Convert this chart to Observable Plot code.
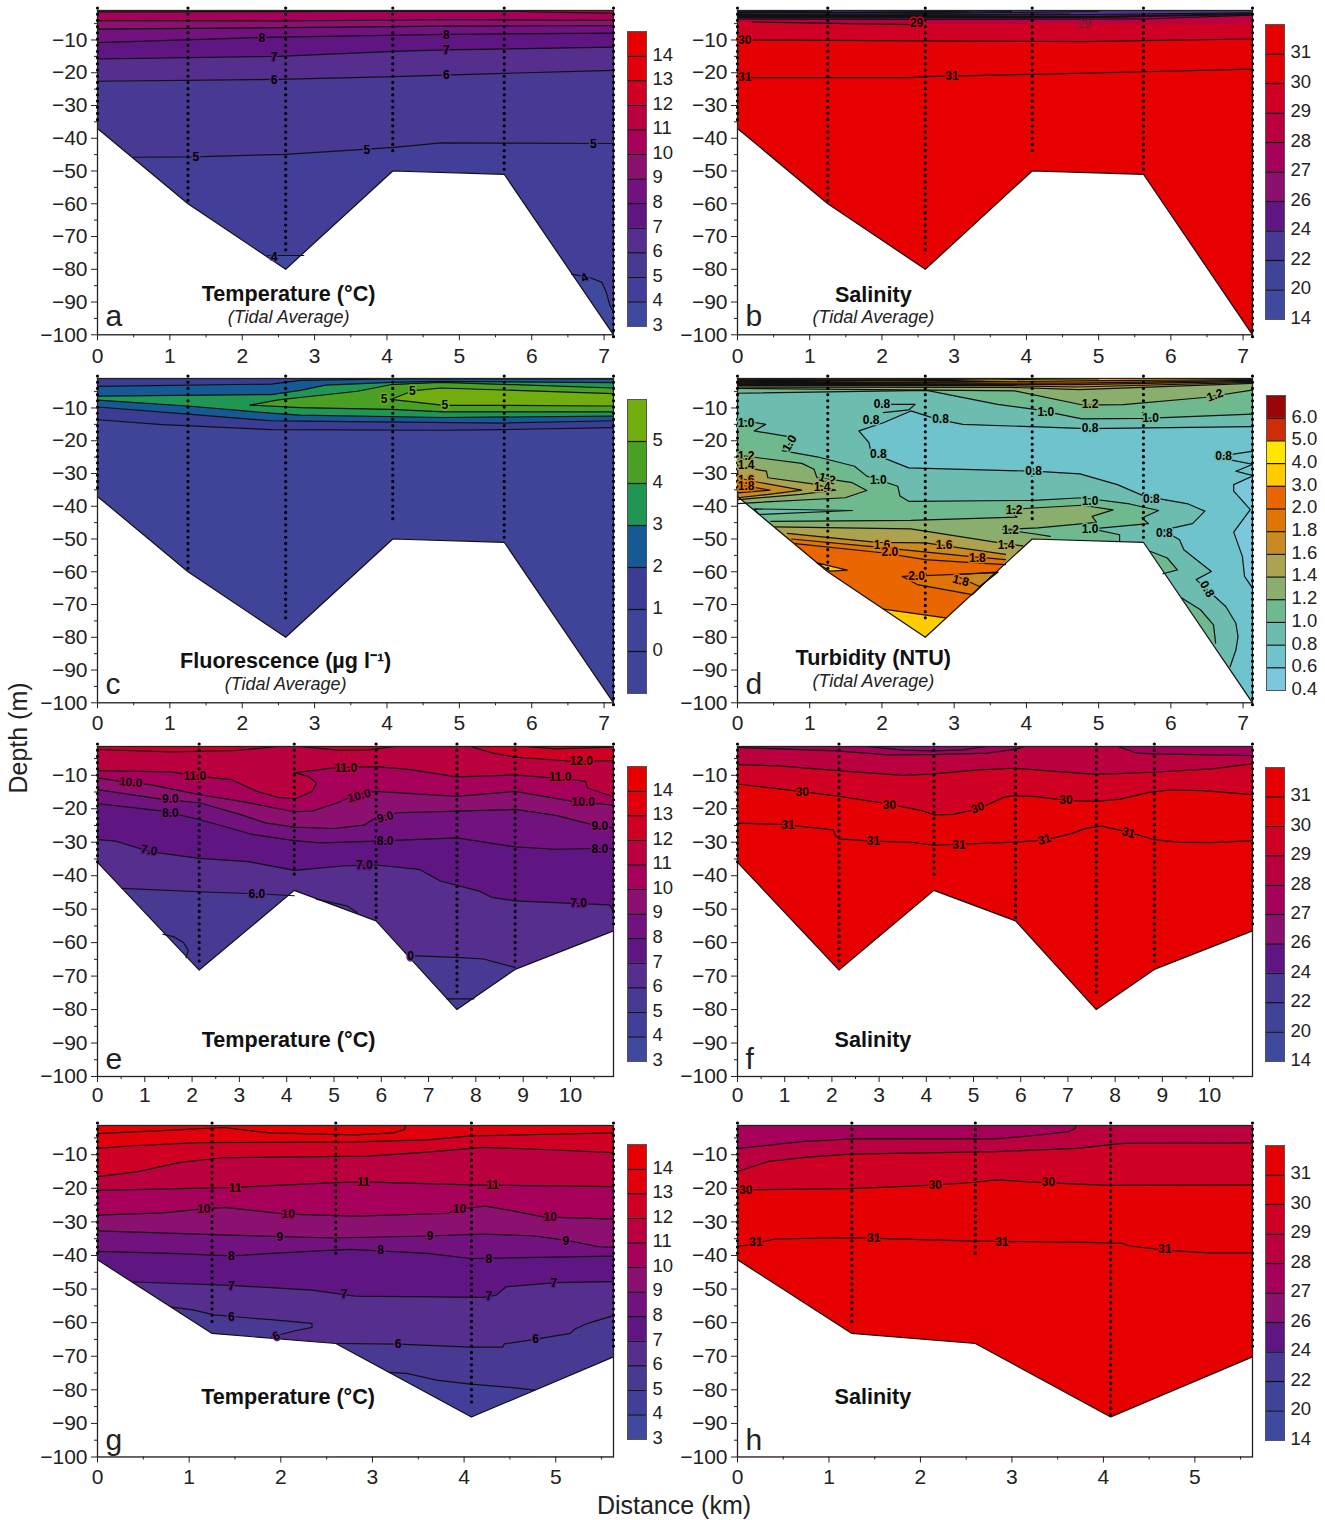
<!DOCTYPE html>
<html><head><meta charset="utf-8">
<script src="https://cdn.jsdelivr.net/npm/d3@7"></script>
<script src="https://cdn.jsdelivr.net/npm/@observablehq/plot@0.6"></script>
<style>
html,body{margin:0;padding:0;background:#fff}
#page{position:relative;width:1325px;height:1520px;overflow:hidden;font-family:"Liberation Sans",Arial,sans-serif;color:#222}
#page svg{position:absolute;overflow:visible;max-width:none}
.ax{position:absolute;font-size:25px;white-space:nowrap}
</style></head><body><div id="page"></div>
<script>
// ---------- colour key levels (bottom to top) ----------
const tempLevels=[3,4,5,6,7,8,9,10,11,12,13,14];
const tempColors=["#3f4a9e","#413f98","#483a92","#552e8e","#601682","#72127f","#8c1070","#a6005a","#bb0040","#d00024","#e2000c","#e60000"];
const salLevels=[14,20,22,24,26,27,28,29,30,31];
const salColors=["#3f4a9e","#3f4499","#483a92","#601682","#8c1070","#a6005a","#bb0040","#d00024","#e50004","#e60000"];
const fluoLevels=[-1,0,1,2,3,4,5];
const fluoColors=["#3f4499","#3f4499","#3b3d95","#155a95","#209655","#4aa024","#72ad10"];
const turbLevels=[0.4,0.6,0.8,1,1.2,1.4,1.6,1.8,2,3,4,5,6];
const turbColors=["#7cc7dc","#6fc3cc","#6cbdb0","#6fb98f","#8aae6e","#aca350","#c98a22","#e07505","#ea6600","#ffcc00","#ffe600","#cf2c08","#9b0508"];

// ---------- sea bed and profile stations ----------
const bedABCD=[[0,-37],[1.25,-60],[2.6,-80],[4.08,-50],[5.62,-51],[7.13,-100]];
const stationsABCD=[[0,-36],[1.25,-60],[2.6,-75],[4.08,-45.5],[5.62,-51],[7.13,-101.5]];
const bedEF=[[0,-36],[2.15,-68.2],[4.16,-44.4],[5.89,-53.5],[7.6,-80],[8.83,-68],[10.91,-56.5]];
const stationsEF=[[0,-36],[2.15,-66],[4.16,-40.5],[5.89,-53],[7.6,-75],[8.83,-67],[10.91,-56]];
const bedGH=[[0,-41.3],[1.25,-63.2],[2.6,-66.2],[4.08,-88.1],[5.63,-70.2]];
const stationsG=[[0,-41],[1.25,-60.5],[2.6,-40.4],[4.08,-85],[5.63,-68]];
const stationsH=[[0,-41],[1.25,-60.8],[2.6,-40.4],[4.08,-88],[5.63,-68]];

// ---------- panel a: temperature ----------
const a4a=[[2.35,-75.8],[2.85,-75.8]];
const a4b=[[6.55,-81.5],[6.8,-82.5],[6.97,-84],[7.03,-87],[7.08,-91],[7.13,-93]];
const a5=[[0.5,-45.8],[1.3,-45.7],[2.6,-44.9],[4.1,-42.8],[4.75,-41.4],[5.6,-41.5],[7.13,-41.6]];
const a6=[[0,-22.6],[2.5,-22],[4.1,-21.2],[5.6,-20.2],[7.13,-19.3]];
const a7=[[0,-15.8],[2.5,-15],[4.1,-13.5],[4.8,-13],[7.13,-12.2]];
const a8=[[0,-10.8],[2.3,-9.2],[4.8,-8.3],[7.13,-7.9]];
const a9=[[0,-6.7],[2.6,-6.2],[4.8,-5.8],[7.13,-5.6]];
const a10=[[0,-4.1],[2.6,-4.2],[4.8,-3.8],[7.13,-4]];
const a11=[[0,-1.4],[5.6,-1.2],[7.13,-1.9]];
const aLabels=[[2.27,-9.3,"8"],[4.82,-8.4,"8"],[2.44,-15.2,"7"],[4.82,-13,"7"],[2.44,-22.3,"6"],[4.82,-20.7,"6"],[1.36,-45.7,"5"],[3.72,-43.6,"5"],[6.85,-41.7,"5"],[2.44,-76.2,"4"],[6.73,-82.6,"4",-30]];
const aLayers=[[3,"down",a4a],[3,"down",a4b],[5,"up",a5],[6,"up",a6],[7,"up",a7],[8,"up",a8],[9,"up",a9],[10,"up",a10],[11,"up",a11]];

// ---------- panel b: salinity ----------
const b31=[[0,-21.5],[2.4,-21.5],[2.6,-21.2],[4.08,-20.5],[5.62,-19.7],[7.13,-18.9]];
const b30=[[0,-10],[1.25,-10.1],[4.8,-10.5],[5.6,-10.2],[7.13,-9.7]];
const b29fill=[[0,-4.2],[0.21,-4.5],[2.4,-5.3],[2.6,-5],[5.6,-5.1],[7.13,-5]];
const b29=[[0.21,-4.5],[2.4,-5.3]];
const b28=[[0,-3.6],[2.6,-3.7],[5.64,-3.6],[7.13,-2.4]];
const b27=[[0,-3.2],[2.6,-3.2],[5,-3.1],[7.13,-2.2]];
const b26=[[0,-2.9],[2.6,-2.9],[5,-2.8],[7.13,-2]];
const b24=[[0,-2.6],[2.6,-2.5],[4.5,-2.3],[7.13,-1.7]];
const b22=[[0,-2.2],[2.2,-2],[3.9,-1.6],[5,-1.3]];
const b20=[[0,-1.8],[1.8,-1.6],[3.2,-1.2]];
const b14=[[0,-1.4],[1.3,-1.2]];
const bDark1=[[0,-3],[3.6,-3],[5.4,-2.9]];
const bDark2=[[0,-2.4],[3.2,-2.3],[4.6,-2.1]];
const bDark3=[[0,-1.6],[3.2,-1.5],[3.8,-1.3]];
const bLabels=[[0.1,-10.2,"30"],[0.1,-21.5,"31"],[2.97,-21.1,"31"],[2.48,-5,"29"]];
const bFaint=[[4.8,-5.3,"29"]];
const bLayers=[[30,"up",b31],[29,"up",b30],[28,"up",b29fill,null,true],[27,"up",b28],[26,"up",b27],[24,"up",b26],[22,"up",b24],[20,"cap",b22],[14,"cap",b20],[14,"cap",b14]];
const bExtra=[b29,bDark1,bDark2,bDark3];

// ---------- panel c: fluorescence ----------
const c1=[[0,-13.6],[0.9,-15.1],[2.4,-16.6],[4.75,-16.8],[5.6,-16.6],[7.13,-16]];
const c2up=[[0,-3.4],[2.4,-2.7],[2.8,-1.6],[4.05,-1.15],[7.13,-1.1]];
const c2lo=[[0,-9.7],[1.25,-11.9],[2.4,-13.9],[2.8,-14],[5.61,-14.6],[7.13,-13.9]];
const c3up=[[0,-6.4],[2.4,-5.9],[2.8,-4.6],[3.15,-3],[4.05,-2.2],[4.74,-1.9],[7.13,-2.25]];
const c3lo=[[0,-7.6],[1.25,-9.4],[2.4,-11.6],[2.8,-12.2],[4.79,-12.9],[7.13,-12.5]];
const c4up=[[2.11,-9.1],[2.5,-7.5],[2.8,-6.8],[3.59,-4.9],[4.05,-2.9],[4.74,-2.2],[5.75,-2.9],[7.13,-3.9]];
const c4lo=[[2.11,-9.1],[2.8,-9.9],[4.05,-10.4],[4.79,-11.2],[7.13,-11.2]];
const c5up=[[4.05,-7.4],[4.35,-4.8],[4.74,-3.9],[7.13,-5.6]];
const c5lo=[[4.05,-7.4],[4.79,-9.2],[5.57,-9.2],[7.13,-9.4]];
const cLabels=[[3.96,-7.2,"5"],[4.35,-4.8,"5"],[4.8,-9.2,"5"]];
const cLayers=[[1,"up",c1],[2,"pair",c2up,c2lo],[3,"pair",c3up,c3lo],[4,"pair",c4up,c4lo],[5,"pair",c5up,c5lo]];

// ---------- panel d: turbidity ----------
const d08=[[7.13,-15.7],[4.85,-16.3],[3.12,-15],[2.77,-13.5],[2.4,-10.9],[2.02,-14.5],[1.68,-17],[1.82,-20.6],[1.85,-23.7],[2.37,-28.3],[4.1,-29.3],[4.74,-30.1],[5.26,-33.4],[5.63,-36.9],[6.24,-39.3],[6.47,-41.5],[6.3,-45.3],[5.89,-47.3],[6.12,-50.2],[6.18,-53.3],[6.56,-59.9],[6.35,-62.4],[6.76,-70.6],[6.9,-75.7],[6.93,-79.8],[6.9,-83.9],[6.82,-89]];
const d08notch=[[7.13,-23.2],[6.61,-24.9],[7.13,-27.2],[6.9,-29.3],[7.13,-30.6]];
const d08spike=[[1.91,-8.9],[2.46,-8.9],[2.37,-10.6],[2.02,-11.4]];
const d04=[[7.13,-30.8],[6.87,-33.4],[6.87,-35.4],[7.1,-41],[6.87,-47.9],[6.99,-55.3],[7.02,-61.4],[7.13,-65]];
const d10top=[[0,-5.5],[2.62,-4.6],[3.6,-8.9],[4.12,-10.4],[4.77,-13.3],[5.63,-13.2],[7.13,-11.9]];
const d12top=[[0,-4],[3.84,-4.8],[4.78,-9.1],[5.34,-9],[6.46,-6.8],[7.13,-4.5]];
const d14top=[[0,-3.6],[3.8,-3.7],[4.73,-4.4],[7.13,-2.5]];
const d16top=[[0,-3.2],[3.8,-3.2],[4.7,-3.6],[7.13,-2.2]];
const d18top=[[0,-2.9],[3.5,-2.8],[4.7,-2.9],[7.13,-1.9]];
const d20top=[[0,-2.6],[3,-2.4],[4.7,-2.4],[7.13,-1.6]];
const d30top=[[0,-2.3],[3,-2],[4.7,-1.7],[5.5,-1.6],[7.13,-1.3]];
const d40top=[[0,-2],[3,-1.6],[4.2,-1.2],[5,-1.1]];
const d50top=[[0,-1.7],[3,-1.3],[3.6,-1]];
const d60top=[[0,-1.4],[2,-1.05]];
const dDark1=[[0,-3.05],[2.8,-2.9],[3.6,-2.7]];
const dDark2=[[0,-2.45],[2.6,-2.2],[3.4,-1.9]];
const dDark3=[[0,-1.85],[2.4,-1.5],[3,-1.2]];
const d10main=[[0,-13.5],[0.39,-15],[0.23,-17],[0.81,-19.1],[0.62,-23],[1.1,-24.9],[1.62,-27.8],[1.79,-30.8],[2.22,-33.9],[2.25,-36.9],[2.37,-38.5],[4.1,-38.2],[4.77,-37.4],[5.43,-39.3],[5.83,-41.3],[5.6,-43.6],[5.69,-45.3],[4.91,-46.9],[5.29,-48.7],[5.29,-50.7]];
const d10mainFill=[[5.29,-60],[0,-60]];
const d10a=[[5.72,-53.8],[5.95,-55.8],[6.09,-59.4],[5.89,-60.6]];
const d10b=[[6.15,-68],[6.41,-71.6],[6.59,-76.2],[6.62,-81.8]];
const d10bFill=[[6.1,-82]];
const d12tongue=[[0,-24.5],[0.11,-24.7],[0.89,-26.9],[1.06,-28.7],[1.1,-31.3],[1.36,-32],[1.59,-32.8],[1.79,-35.2],[1.49,-37.4],[0.06,-39.1],[0,-39.2]];
const d14tongue=[[0,-27.7],[0.4,-29.3],[0.42,-31.3],[1.09,-33.3],[1.36,-35.1],[0.87,-36.4],[0.05,-37.9],[0,-38]];
const d16tongue=[[0,-31.3],[0.2,-32.3],[0.89,-35.1],[0.43,-36.4],[0,-37.4]];
const d18tongue=[[0,-33.3],[0.45,-35.1],[0,-35.9]];
const d08wedge=[[0.23,-40.8],[1.59,-41.3],[0.3,-42.5]];
const d12low=[[0.46,-44.6],[2.4,-44.3],[3.87,-43.3],[3.73,-41],[4.77,-39.7],[5.2,-41.1],[4.91,-43.1],[4.97,-44.9],[4.16,-46.6],[3.67,-47.1],[4.1,-48.4],[4.33,-49.2]];
const d12lowFill=[[4.33,-62],[0.46,-62]];
const d14low=[[0.52,-46.3],[2.4,-46.9],[3.7,-51.4],[3.95,-52.1]];
const d16low=[[0.69,-48.3],[1.93,-51],[2.6,-51.2],[3.71,-54.7]];
const d18low=[[0.75,-50],[1.9,-52.4],[2.62,-54],[3.2,-55.3],[3.71,-56.3]];
const d20low=[[0.8,-51.4],[2,-54.2],[2.6,-56.3],[3.29,-57.3],[3.71,-57.8]];
const d18pocket=[[2.28,-61.4],[2.6,-61.2],[3.57,-60.3],[3.25,-67],[2.49,-63.9]];
const d16pocket=[[3,-60.9],[3.61,-60.1],[3.35,-64.5]];
const d30bottom=[[2.02,-71.4],[2.88,-74.1]];
const d30wedge=[[1.1,-57.3],[1.52,-59.5],[1.28,-59.8]];
const dLabels=[[0.12,-14.7,"1.0"],[0.72,-20.8,"1.0",-60],[0.12,-24.7,"1.2"],[0.12,-27.6,"1.4"],[0.12,-32,"1.6"],[0.12,-34,"1.8"],[1.24,-31.6,"1.2",15],[1.17,-34.1,"1.4"],[1.95,-32,"1.0"],[1.95,-24.2,"0.8"],[2,-8.9,"0.8"],[1.85,-13.7,"0.8"],[2.81,-13.5,"0.8"],[4.27,-11.4,"1.0"],[4.88,-8.9,"1.2"],[6.61,-6.1,"1.2",-20],[4.88,-16.3,"0.8"],[5.72,-13,"1.0"],[4.1,-29.3,"0.8"],[4.88,-38.3,"1.0"],[5.73,-37.8,"0.8"],[3.83,-41.2,"1.2"],[3.78,-47.3,"1.2"],[4.88,-46.9,"1.0"],[5.91,-48.2,"0.8"],[3.72,-52,"1.4"],[2.86,-51.9,"1.6"],[2,-51.9,"1.6"],[2.11,-54.1,"2.0"],[3.32,-55.8,"1.8"],[2.48,-61.4,"2.0"],[3.09,-62.7,"1.8",15],[6.5,-65.3,"0.8",60],[6.73,-24.7,"0.8"]];
const dLayers=[[0.6,"open",d08,[[7.13,-100]]],[0.4,"open",d04],[1,"up",d10top],[1.2,"up",d12top],[1.4,"up",d14top],[1.6,"up",d16top],[1.8,"up",d18top],[2,"up",d20top],[3,"up",d30top],[4,"cap",d40top],[5,"cap",d50top],[6,"cap",d60top],
 [1,"open",d10main,d10mainFill],[1,"open",d10a,[[5.7,-62]]],[1,"open",d10b,d10bFill],[1.2,"closed",d12tongue],[1.4,"closed",d14tongue],[1.6,"closed",d16tongue],[1.8,"closed",d18tongue],[0.8,"closed",d08wedge],
 [1.2,"open",d12low,d12lowFill],[1.4,"down",d14low],[1.6,"down",d16low],[1.8,"down",d18low],[2,"down",d20low],[1.8,"closed",d18pocket],[1.6,"closed",d16pocket],[3,"down",d30bottom],[3,"closed",d30wedge]];
const dExtra=[d08notch,d08spike,dDark1,dDark2,dDark3];

// ---------- panel e: temperature ----------
const e12l=[[0,-1.4],[0,-2.3],[1.56,-3],[2.92,-2.6],[3.82,-1.4]];
const e12m=[[4.27,-1.4],[5.08,-2.5],[5.72,-2.4],[6.3,-1.4]];
const e12r=[[7.89,-1.4],[8.34,-3.3],[8.83,-4.6],[10.05,-5.8],[10.91,-5.6]];
const e13=[[9.06,-1.4],[9.69,-2.1],[10.86,-1.6]];
const e11=[[0,-8.6],[1.56,-9],[2.15,-10.3],[2.83,-11.3],[3.37,-14.8],[3.82,-16.6],[4.18,-17],[4.54,-14.8],[4.63,-12.3],[4.45,-10.3],[4.16,-9.3],[4.99,-7.8],[5.89,-7.4],[6.62,-8.3],[7.6,-10.5],[8.83,-9.9],[10.05,-11.3],[10.32,-11.8],[10.36,-13.8],[10.91,-16.4]];
const e10=[[0,-10.8],[0.48,-11.8],[1.11,-12.8],[2.15,-15.8],[3.01,-17.7],[4.16,-20.9],[4.54,-20.7],[5.08,-18.2],[5.45,-15.8],[5.89,-14.8],[7.6,-16.3],[8.83,-14.8],[10.05,-17.8],[10.91,-18.9]];
const e9=[[0,-14.3],[1.38,-17.2],[2.15,-18.2],[3.01,-21.7],[3.55,-24.2],[4.16,-25.5],[4.99,-25.9],[5.63,-24.9],[5.89,-22.7],[6.35,-21.2],[7.6,-20.7],[8.83,-20.2],[9.69,-22],[10.59,-25.2],[10.91,-25.7]];
const e8=[[0,-18.5],[0.66,-19.5],[1.38,-20.7],[2.15,-23.2],[3.28,-27.7],[4.16,-29.5],[4.72,-30.2],[5.89,-29.7],[7.6,-28.7],[8.83,-31.4],[9.69,-32.1],[10.91,-31.8]];
const e7=[[0,-29.2],[0.39,-29.7],[1.11,-32.8],[2.15,-34.8],[3.19,-35.8],[4.16,-38.4],[5.18,-37.1],[5.89,-36.8],[6.8,-38.1],[7.25,-41.6],[8.07,-44.6],[8.34,-46.5],[8.83,-47.5],[10.05,-48.3],[10.82,-48.7],[10.91,-50.5]];
const e6a=[[0.52,-43.8],[2.15,-44.8],[3.37,-45.4],[4.16,-46]];
const e6b=[[4.63,-47],[5.27,-49],[5.49,-51]];
const e6c=[[6.58,-63.9],[7.6,-64.4],[8.16,-64.9],[8.83,-67.4]];
const e5a=[[1.38,-57.5],[1.62,-58.3],[1.82,-60],[1.92,-62.4],[1.87,-64.5]];
const e5b=[[7.39,-76.8],[7.96,-76.8]];
const eLabels=[[2.06,-10.3,"11.0"],[5.25,-7.8,"11.0"],[9.78,-10.6,"11.0"],[0.7,-12.1,"10.0",5],[5.53,-16.1,"10.0",-15],[10.27,-18,"10.0"],[1.54,-17.2,"9.0"],[6.08,-22.5,"9.0",-15],[10.62,-25.3,"9.0"],[1.54,-21.4,"8.0"],[6.08,-29.7,"8.0"],[10.62,-32,"8.0"],[1.09,-32.4,"7.0",10],[5.64,-36.9,"7.0"],[10.17,-48.3,"7.0"],[3.37,-45.4,"6.0"],[6.62,-63.9,"0",0,6],[10.23,-5.8,"12.0"]];
const eLayers=[[5,"down",e6a],[5,"down",e6b],[5,"down",e6c],[4,"down",e5a],[4,"down",e5b],[7,"up",e7],[8,"up",e8],[9,"up",e9],[10,"up",e10],[11,"up",e11],[12,"cap",e12l],[12,"cap",e12m],[12,"open",e12r,[[10.91,-1.4]]],[13,"cap",e13]];

// ---------- panel f: salinity ----------
const f31=[[0,-24.3],[0.97,-24.7],[2.03,-26.3],[2.07,-28],[2.16,-29],[2.82,-29.7],[3.66,-30],[4.16,-30.9],[5.86,-30],[6.52,-29.3],[7.05,-27.5],[7.4,-25.8],[7.71,-25.2],[8.28,-27],[8.81,-29.2],[9.34,-30],[10.04,-30.1],[10.91,-29.5]];
const f30=[[0,-12.6],[1.32,-14.8],[2.16,-16.3],[3.17,-18.5],[3.88,-20.5],[4.16,-21.8],[4.58,-21.7],[5.11,-20],[5.64,-16.6],[5.86,-16.1],[6.34,-16.4],[6.96,-17.5],[7.6,-17.8],[8.11,-17.1],[8.72,-15.1],[9.16,-14.4],[9.87,-14.6],[10.91,-15.8]];
const f29=[[0,-6.8],[0.88,-7.2],[2.11,-8.6],[3.52,-10],[4.16,-9.6],[5.11,-8.4],[5.86,-7.9],[6.52,-8.6],[7.6,-9.7],[8.81,-9.1],[10.04,-8.1],[10.91,-6.6]];
const f28l=[[0,-1.7],[2.11,-2.7],[3.17,-3.9],[4.16,-3.8],[5.29,-3.4],[5.9,-2.2],[6.08,-1.4]];
const f28r=[[8.06,-1.4],[8.46,-3.4],[8.81,-3.6],[10.91,-4.1]];
const f27=[[2.73,-1.4],[3.52,-2.5],[4.16,-2.7],[4.76,-2.4],[5.29,-1.4]];
const fLabels=[[1.37,-14.9,"30"],[3.22,-18.8,"30"],[5.09,-19.7,"30",-20],[6.96,-17.3,"30"],[1.07,-25,"31"],[2.88,-29.7,"31"],[4.69,-30.8,"31"],[6.5,-29.2,"31",-15],[8.28,-27.2,"31",15]];
const fLayers=[[30,"up",f31],[29,"up",f30],[28,"up",f29],[27,"cap",f28l],[27,"open",f28r,[[10.91,-1.4]]],[26,"cap",f27]];

// ---------- panel g: temperature ----------
const g14=[[0,-3.7],[0.81,-2.7],[1.37,-1.9],[1.88,-3.5],[2.81,-4.1],[3.23,-3.5],[3.35,-2.5],[3.36,-1.3]];
const g13=[[0,-8.1],[0.34,-7.4],[1.09,-6.4],[2.81,-6.2],[3.6,-5.6],[4.07,-4.4],[5.63,-3.5]];
const g12=[[0,-16.5],[0.43,-15.1],[0.9,-12.3],[1.37,-10.9],[2.95,-10.4],[3.56,-9.3],[4.21,-7.8],[5,-8.6],[5.63,-9.4]];
const g11=[[0,-20.6],[1.41,-19.8],[2.6,-18.3],[2.9,-18.1],[4.07,-19],[5.63,-19.5]];
const g10=[[0,-28],[0.71,-27.3],[1.13,-26.2],[1.39,-25.7],[2.06,-27.7],[2.81,-28.3],[3.81,-27.5],[3.95,-26.2],[4.23,-25.3],[4.53,-26.7],[4.86,-28.5],[5.63,-29.2]];
const g9=[[0,-32.7],[1.27,-33.8],[2.58,-34.8],[3.6,-34.2],[4.21,-33.6],[4.77,-34.2],[5.14,-35.6],[5.47,-37.4],[5.63,-37.6]];
const g8=[[0,-38.8],[0.81,-39.4],[1.46,-40.1],[2.2,-38.9],[2.76,-38.2],[3.6,-39.4],[4.07,-40.9],[5.63,-40.2]];
const g7=[[0.39,-47.9],[1.46,-48.9],[2.34,-50.3],[2.81,-52.1],[4.21,-52.5],[4.35,-51.8],[4.46,-49.3],[5,-48.1],[5.63,-47.8]];
const g6a=[[0.81,-55.4],[1.04,-56.2],[1.27,-57.7],[1.92,-59.2],[2.34,-60.2],[2.34,-61.4],[2.16,-62.4],[1.9,-64.2]];
const g6b=[[2.62,-66.2],[3.28,-66.4],[4.07,-67.3],[4.42,-67.3],[4.44,-66.3],[4.77,-65],[5.16,-63.2],[5.21,-61.9],[5.35,-60.2],[5.63,-57.9]];
const g5=[[3.18,-74.8],[3.37,-75.1],[3.7,-77.1],[4.07,-78.3],[4.44,-79.1],[4.77,-80.1]];
const gLabels=[[1.5,-19.9,"11"],[2.9,-18.1,"11"],[4.31,-19,"11"],[1.16,-26.2,"10"],[2.08,-27.6,"10"],[3.95,-26.1,"10"],[4.94,-28.5,"10"],[1.99,-34.4,"9"],[3.63,-34.2,"9"],[5.11,-35.6,"9"],[1.46,-40.1,"8"],[3.09,-38.5,"8"],[4.27,-41,"8"],[1.46,-49,"7"],[2.69,-51.6,"7"],[4.27,-52,"7"],[4.98,-48.3,"7"],[1.46,-58.4,"6"],[3.28,-66.4,"6"],[4.78,-65,"6"],[1.95,-64,"6",-30]];
const gLayers=[[5,"open",g6a,[[1.9,-70],[0.81,-70]]],[5,"down",g6b],[4,"down",g5],[7,"up",g7],[8,"up",g8],[9,"up",g9],[10,"up",g10],[11,"up",g11],[12,"up",g12],[13,"up",g13],[14,"cap",g14]];

// ---------- panel h: salinity ----------
const h31=[[0,-37.2],[0.11,-36.9],[0.41,-35.1],[1.23,-34.7],[2.6,-35.7],[3.83,-36.1],[4.21,-36.4],[4.28,-37.1],[4.67,-38.4],[5.15,-39.2],[5.63,-39.2]];
const h30=[[0,-20.5],[1.23,-20.1],[2.09,-19.1],[2.6,-18.2],[2.82,-17.5],[3.39,-18.4],[4.08,-19.1],[5.63,-19]];
const h29=[[0,-15],[0.34,-12],[0.77,-10.7],[1.23,-9.8],[2.82,-9.1],[3.71,-8.1],[4.08,-7],[4.23,-6.6],[5.63,-6.5]];
const h28=[[0,-8.2],[0.73,-6],[1.32,-5.2],[2.82,-5.3],[3.28,-4.2],[3.62,-3.1],[3.69,-2.2],[3.7,-1.3]];
const hLabels=[[0.09,-20.5,"30"],[2.16,-19,"30"],[3.4,-18.3,"30"],[0.2,-35.9,"31"],[1.49,-34.9,"31"],[2.89,-35.9,"31"],[4.67,-38.2,"31"]];
const hLayers=[[30,"up",h31],[29,"up",h30],[28,"up",h29],[27,"cap",h28]];

// ---------- drawing ----------
const page=document.getElementById("page");
const FONT='"Liberation Sans",Arial,sans-serif';
const range=(a,b,s)=>d3.range(a,b+s/2,s);

function polygon(l,top){
  const [seg,mode,pts,extra]=l, xmin=0, xmax=l.xmax;
  if(mode==="up") return [[xmin,top],[xmin,pts[0][1]],...pts,[xmax,pts[pts.length-1][1]],[xmax,top]];
  if(mode==="cap") return [[pts[0][0],top],...pts,[pts[pts.length-1][0],top]];
  if(mode==="down") return [[pts[0][0],-106],...pts,[pts[pts.length-1][0],-106]];
  if(mode==="pair") return [...pts,...extra.slice().reverse()];
  return [...pts,...(extra||[])];
}

function panel(o){
  const [x0,x1]=o.xr, H=o.bottom-o.top, mt=8, mb=40, ml=x0, mr=12;
  const marks=[];
  const toRows=(p,seg)=>p.map(d=>({x:d[0],y:d[1],seg}));
  const filled=(p,seg)=>Plot.line(toRows(p,seg),{x:"x",y:"y",fill:"seg",stroke:"none",clip:true,curve:"linear"});
  const lined=p=>Plot.line(toRows(p),{x:"x",y:"y",stroke:"#111",strokeWidth:1.2,clip:true});
  marks.push(filled([[0,o.ytop],[o.xmax,o.ytop],[o.xmax,-100],[0,-100]],o.base));
  o.layers.forEach(l=>{l.xmax=o.xmax;marks.push(filled(polygon(l,o.ytop),l[0]));});
  marks.push(Plot.line(toRows([...o.bed,[o.xmax,-100],[0,-100]]),{x:"x",y:"y",fill:"white",stroke:"none",clip:true}));
  o.layers.forEach(l=>{
    if(l[4]) return;
    if(l[1]==="pair"){marks.push(lined(l[2]),lined(l[3]));}
    else if(l[1]==="closed"){marks.push(lined([...l[2],l[2][0]]));}
    else marks.push(lined(l[2]));
  });
  (o.extra||[]).forEach(p=>marks.push(lined(p)));
  marks.push(Plot.line(toRows(o.bed),{x:"x",y:"y",stroke:"#111",strokeWidth:1.2}));
  marks.push(Plot.frame({stroke:"#222",strokeWidth:1.3}));
  marks.push(Plot.ruleX(o.stations,{x:d=>d[0],y1:o.ytop+0.6,y2:d=>d[1],stroke:"#000",strokeWidth:3.2,strokeDasharray:"0 6.2",strokeLinecap:"round"}));
  marks.push(Plot.text(o.labels,{x:d=>d[0],y:d=>d[1],text:d=>d[2],rotate:d=>d[3]||0,fill:"#000",stroke:d=>d[4]!==undefined?d[4]:+d[2],strokeWidth:3,fontSize:12,fontWeight:"bold",fontFamily:FONT}));
  if(o.faint) marks.push(Plot.text(o.faint,{x:d=>d[0],y:d=>d[1],text:d=>d[2],fill:"#333",fontSize:12,fontFamily:FONT,fillOpacity:0.75}));
  marks.push(Plot.axisY({ticks:range(-100,-10,10),tickSize:6,tickPadding:4,fontSize:21,label:null,tickFormat:d=>"−"+Math.abs(d),fontFamily:FONT,fill:"#222"}));
  marks.push(Plot.axisY({ticks:range(-95,-5,10),tickSize:3,label:null,tickFormat:()=>""}));
  marks.push(Plot.axisX({ticks:o.xticks,tickSize:6,tickPadding:o.xpad,fontSize:21,label:null,tickFormat:d=>String(d),fontFamily:FONT,fill:"#222"}));
  marks.push(Plot.axisX({ticks:o.xminor,tickSize:3,label:null,tickFormat:()=>""}));
  marks.push(Plot.text([o.title],{x:o.tx,y:o.ty,text:d=>d,fontSize:21.6,fontWeight:"bold",fontFamily:FONT,fill:"#111"}));
  if(o.sub) marks.push(Plot.text(["(Tidal Average)"],{x:o.tx,y:o.sy,text:d=>d,fontSize:18,fontStyle:"italic",fontFamily:FONT,fill:"#222"}));
  marks.push(Plot.text([o.letter],{x:0,y:o.ly,text:d=>d,dx:8,textAnchor:"start",fontSize:30,fontFamily:FONT,fill:"#222"}));
  const svg=Plot.plot({width:x1+mr,height:H+mt+mb,marginLeft:ml,marginRight:mr,marginTop:mt,marginBottom:mb,
    x:{domain:[0,o.xmax]},y:{domain:[-100,o.ytop]},
    color:{type:"ordinal",domain:o.levels,range:o.colors},
    style:{background:"transparent",fontFamily:FONT},marks});
  svg.style.left="0px";svg.style.top=(o.top-mt)+"px";
  page.appendChild(svg);
}

function colorbar(o){
  const n=o.levels.length, rows=o.levels.map((v,i)=>({i,v}));
  const svg=Plot.plot({width:o.x1+30,height:o.y1-o.y0+4,marginLeft:o.x0,marginRight:30,marginTop:2,marginBottom:2,
    x:{domain:[0,1],axis:null},y:{domain:[0,n],axis:null},
    color:{type:"ordinal",domain:o.levels,range:o.colors},
    style:{background:"transparent",fontFamily:FONT},
    marks:[
      Plot.rect(rows,{x1:()=>0,x2:()=>1,y1:d=>d.i,y2:d=>d.i+1,fill:"v"}),
      Plot.ruleY(rows.slice(1),{y:"i",stroke:"#111",strokeWidth:1.2}),
      Plot.frame({stroke:"#555",strokeWidth:1}),
      Plot.text(rows.filter(d=>o.fmt(d.v)!==""),{x:()=>1,y:"i",text:d=>o.fmt(d.v),dx:6,dy:-1.5,textAnchor:"start",fontSize:18.5,fontFamily:FONT,fill:"#222"})
    ]});
  svg.style.left="0px";svg.style.top=(o.y0-2)+"px";
  page.appendChild(svg);
}

const t={levels:tempLevels,colors:tempColors,fmt:String};
const s={levels:salLevels,colors:salColors,fmt:String};
const f={levels:fluoLevels,colors:fluoColors,fmt:v=>v<0?"":String(v)};
const u={levels:turbLevels,colors:turbColors,fmt:v=>v.toFixed(1)};
const ticks7=range(0,7,1),minor7=range(0.5,6.5,1),ticks10=range(0,10,1),minor10=range(0.5,10.5,1),ticks5=range(0,5,1),minor5=range(0.5,5.5,1);
const L=[97,613],R=[737,1252];

panel({...t,xr:L,top:10,bottom:334.3,ytop:-1,xmax:7.13,xticks:ticks7,xminor:minor7,xpad:7,bed:bedABCD,stations:stationsABCD,base:4,layers:aLayers,labels:aLabels,title:"Temperature (°C)",tx:2.64,ty:-87.5,sub:true,sy:-94.5,letter:"a",ly:-94.5});
panel({...s,xr:R,top:10,bottom:334.3,ytop:-1,xmax:7.13,xticks:ticks7,xminor:minor7,xpad:7,bed:bedABCD,stations:stationsABCD,base:31,layers:bLayers,labels:bLabels,faint:bFaint,extra:bExtra,title:"Salinity",tx:1.88,ty:-88,sub:true,sy:-94.5,letter:"b",ly:-94.5});
panel({...f,xr:L,top:378,bottom:702.3,ytop:-1,xmax:7.13,xticks:ticks7,xminor:minor7,xpad:6,bed:bedABCD,stations:stationsABCD,base:0,layers:cLayers,labels:cLabels,title:"Fluorescence (µg l⁻¹)",tx:2.6,ty:-87.3,sub:true,sy:-94.3,letter:"c",ly:-94.5});
panel({...u,xr:R,top:378,bottom:702.3,ytop:-1,xmax:7.13,xticks:ticks7,xminor:minor7,xpad:6,bed:bedABCD,stations:stationsABCD,base:0.8,layers:dLayers,labels:dLabels,extra:dExtra,title:"Turbidity (NTU)",tx:1.88,ty:-86.4,sub:true,sy:-93.4,letter:"d",ly:-94.5});
panel({...t,xr:L,top:746,bottom:1076,ytop:-1.4,xmax:10.91,xticks:ticks10,xminor:minor10,xpad:5,bed:bedEF,stations:stationsEF,base:6,layers:eLayers,labels:eLabels,title:"Temperature (°C)",tx:4.04,ty:-89.2,letter:"e",ly:-95});
panel({...s,xr:R,top:746,bottom:1076,ytop:-1.4,xmax:10.91,xticks:ticks10,xminor:minor10,xpad:5,bed:bedEF,stations:stationsEF,base:31,layers:fLayers,labels:fLabels,title:"Salinity",tx:2.87,ty:-89.2,letter:"f",ly:-95});
panel({...t,xr:L,top:1125,bottom:1456.5,ytop:-1.3,xmax:5.63,xticks:ticks5,xminor:minor5,xpad:6,bed:bedGH,stations:stationsG,base:6,layers:gLayers,labels:gLabels,title:"Temperature (°C)",tx:2.08,ty:-82.1,letter:"g",ly:-95});
panel({...s,xr:R,top:1125,bottom:1456.5,ytop:-1.3,xmax:5.63,xticks:ticks5,xminor:minor5,xpad:6,bed:bedGH,stations:stationsH,base:31,layers:hLayers,labels:hLabels,title:"Salinity",tx:1.48,ty:-82.1,letter:"h",ly:-95});

colorbar({...t,x0:627,x1:646,y0:31,y1:326});
colorbar({...s,x0:1265,x1:1284,y0:24,y1:319});
colorbar({...f,x0:627,x1:646,y0:399,y1:693});
colorbar({...u,x0:1266,x1:1285,y0:395,y1:690});
colorbar({...t,x0:627,x1:646,y0:766,y1:1061});
colorbar({...s,x0:1265,x1:1284,y0:767,y1:1061});
colorbar({...t,x0:627,x1:646,y0:1144,y1:1439});
colorbar({...s,x0:1265,x1:1284,y0:1145,y1:1440});

function axisTitle(text,css){const d=document.createElement("div");d.className="ax";d.textContent=text;Object.assign(d.style,css);page.appendChild(d);}
axisTitle("Depth (m)",{left:"18px",top:"738px",transform:"translate(-50%,-50%) rotate(-90deg)"});
axisTitle("Distance (km)",{left:"674px",top:"1505px",transform:"translate(-50%,-50%)"});
</script></body></html>
